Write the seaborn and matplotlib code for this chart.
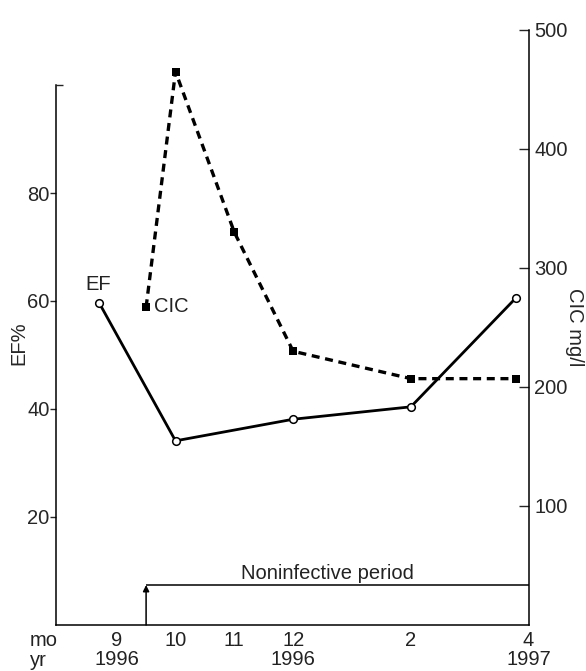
import numpy as np
import pandas as pd
import matplotlib
matplotlib.use("Agg")
import matplotlib.pyplot as plt
from matplotlib.ticker import FixedLocator
import seaborn as sns

# data (x = month number, 13 = Jan 1997)
ef_month = [8.70, 10.0, 12.0, 14.0, 15.78]
ef_value = [59.7, 34.1, 38.1, 40.4, 60.5]
cic_month = [9.5, 10.0, 11.0, 12.0, 14.0, 15.78]
cic_value = [267, 465, 330, 230, 207, 207]

month_ticks = [9, 10, 11, 12, 13, 14, 15, 16]
month_labels = ["9\n1996", "10", "11", "12\n1996", "", "2", "", "4\n1997"]
ef_ticks = [20, 40, 60, 80]
cic_ticks = [100, 200, 300, 400, 500]

period_start = 9.5
period_level = 7.4

FS = 14.5

sns.set_theme(style="white")
plt.rcParams["font.family"] = ["Liberation Sans", "DejaVu Sans"]
plt.rcParams["font.size"] = FS
plt.rcParams["text.color"] = "#222222"

ef = pd.DataFrame({"month": ef_month, "EF": ef_value})
cic = pd.DataFrame({"month": cic_month, "CIC": cic_value})

fig = plt.figure(figsize=(5.86, 6.71), dpi=100)
ax = fig.add_axes([0.0964, 0.0686, 0.8055, 0.8867])
ax2 = ax.twinx()

sns.lineplot(data=ef, x="month", y="EF", ax=ax, color="black", linewidth=2.0,
             marker="o", markersize=5.5, markerfacecolor="white",
             markeredgecolor="black", markeredgewidth=1.1)
sns.lineplot(data=cic, x="month", y="CIC", ax=ax2, color="black", linewidth=2.4,
             linestyle=(0, (2.4, 1.7)), marker="s", markersize=5.5,
             markeredgewidth=0)

ax.set_xlim(7.977, 16)
ax.set_ylim(0, 110.19)
ax2.set_ylim(0, 500)

# spines
for a in (ax, ax2):
    for s in a.spines.values():
        s.set_visible(False)
        s.set_color("black")
        s.set_linewidth(1.1)
ax.spines["left"].set_visible(True)
ax.spines["left"].set_bounds(0, 100)
ax.spines["bottom"].set_visible(True)
ax2.spines["right"].set_visible(True)

# ticks
ax.set_xticks(month_ticks)
ax.set_xticklabels(month_labels, linespacing=1.0)
ax.tick_params(axis="x", direction="in", length=6, width=1, pad=4,
               labelsize=FS, colors="#222222")
ax.set_yticks(ef_ticks)
ax.set_yticklabels([str(t) for t in ef_ticks])
ax.yaxis.set_minor_locator(FixedLocator([100]))
ax.tick_params(axis="y", which="major", direction="out", length=4, width=1,
               pad=1, labelsize=FS, left=True)
ax.tick_params(axis="y", which="minor", direction="in", length=5, width=1,
               left=True)
ax2.set_yticks(cic_ticks)
ax2.set_yticklabels([str(t) for t in cic_ticks])
ax2.tick_params(axis="y", direction="in", length=7, width=1, pad=4,
                labelsize=FS, right=True)

ax.set_xlabel("")
ax.set_ylabel("EF%", fontsize=FS)
ax.yaxis.set_label_coords(-0.060, 0.474)
ax2.set_ylabel("CIC mg/l", fontsize=FS, rotation=270, va="center")
ax2.yaxis.set_label_coords(1.098, 0.50)

# series labels
ax.text(8.68, 63.1, "EF", ha="center", va="center", fontsize=FS)
ax.text(9.63, 58.9, "CIC", ha="left", va="center", fontsize=FS)

# noninfective period marker
ax.annotate("", xy=(period_start, period_level), xytext=(period_start, 0),
            arrowprops=dict(arrowstyle="-|>", color="black", lw=1.1,
                            mutation_scale=9, shrinkA=0, shrinkB=0))
ax.plot([period_start, 16], [period_level, period_level], color="black",
        linewidth=1.1, solid_capstyle="butt")
ax.text(12.59, 9.6, "Noninfective period", ha="center", va="center",
        fontsize=FS)

fig.text(30 / 586, 1 - 641 / 671, "mo", ha="left", va="center", fontsize=FS)
fig.text(30 / 586, 1 - 661 / 671, "yr", ha="left", va="center", fontsize=FS)

plt.savefig("out.png", dpi=100)
plt.close()
